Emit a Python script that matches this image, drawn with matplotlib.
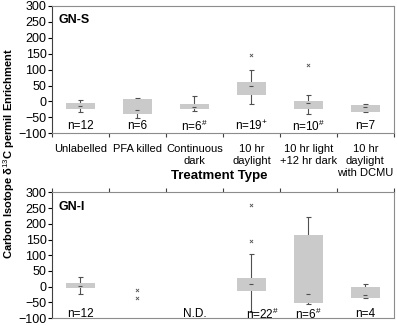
import numpy as np
import matplotlib.pyplot as plt

plt.rcParams['font.family'] = ['Liberation Sans', 'DejaVu Sans']
plt.rcParams['mathtext.fontset'] = 'custom'
plt.rcParams['mathtext.rm'] = 'Liberation Sans'
plt.rcParams['mathtext.bf'] = 'Liberation Sans:bold'

############ DATA ############
categories = ['Unlabelled', 'PFA killed', 'Continuous\ndark', '10 hr\ndaylight',
              '10 hr light\n+12 hr dark', '10 hr\ndaylight\nwith DCMU']

# GN-S (top)
s_q1 = [-23, -39, -25, 21, -23, -32]
s_q3 = [-5, 9, -8, 61, 2, -10]
s_wlo = [-32, -53, -29, -8, -38, -34]
s_whi = [5, 11, 16, 100, 19, -8]
s_med = [-13, -26, -16, 47, -6, -17]
s_out_x = [3, 4]
s_out_y = [145, 113]
s_n = ['n=12', 'n=6', r'n=6$^{\#}$', r'n=19$^{+}$', r'n=10$^{\#}$', 'n=7']

# GN-I (bottom)
i_q1 = [-3, np.nan, np.nan, -15, -51, -35]
i_q3 = [13, np.nan, np.nan, 29, 165, 0]
i_wlo = [-24, np.nan, np.nan, -80, -55, -35]
i_whi = [30, np.nan, np.nan, 103, 223, 9]
i_med = [3, np.nan, np.nan, 8, -22, -27]
i_out_x = [1, 1, 3, 3]
i_out_y = [-10, -35, 259, 145]
i_n = ['n=12', '', 'N.D.', r'n=22$^{\#}$', r'n=6$^{\#}$', 'n=4']
i_n_shift = [0, 0, 0, 0.2, 0, 0]
##############################

BOX = '#cacaca'
LINE = '#505050'
FRAME = '#8c8c8c'


def draw_panel(ax, q1, q3, wlo, whi, med, out_x, out_y, labels, n_y, shifts, title):
    x = np.arange(len(categories))
    q1 = np.array(q1, float); q3 = np.array(q3, float)
    wlo = np.array(wlo, float); whi = np.array(whi, float); med = np.array(med, float)
    ok = ~np.isnan(q1)
    ax.errorbar(x[ok], med[ok], yerr=[med[ok] - wlo[ok], whi[ok] - med[ok]], fmt='none',
                ecolor=LINE, elinewidth=0.8, capsize=1.8, capthick=0.8, zorder=1)
    ax.bar(x[ok], (q3 - q1)[ok], bottom=q1[ok], width=0.5, color=BOX, zorder=2)
    ax.scatter(x[ok], med[ok], marker='_', s=6, color=LINE, linewidths=0.8, zorder=3)
    ax.scatter(out_x, out_y, marker='x', s=5, color=LINE, linewidths=0.6, zorder=3)
    for xi, lab, sh in zip(x, labels, shifts):
        ax.text(xi + sh, n_y, lab, ha='center', va='center', fontsize=8.5)
    ax.text(0.018, 0.935, title, transform=ax.transAxes, fontsize=9, fontweight='bold',
            ha='left', va='top')
    ax.set_xlim(-0.5, 5.5)
    ax.set_ylim(-100, 300)
    ax.set_yticks(np.arange(-100, 301, 50))
    ax.tick_params(axis='y', labelsize=9, length=3, width=0.8, pad=1)
    for s in ['top', 'right', 'bottom']:
        ax.spines[s].set_color(FRAME)
    ax.spines['left'].set_color('#404040')
    ax.set_xticks(np.arange(-0.5, 5.6, 1.0))
    ax.set_xticklabels([])
    ax.tick_params(axis='x', which='major', length=3, width=0.8, color='#404040')


fig = plt.figure(figsize=(3.97, 3.26), dpi=100)
ax1 = fig.add_axes([0.131, 0.591, 0.861, 0.391])
ax2 = fig.add_axes([0.131, 0.024, 0.861, 0.386])

draw_panel(ax1, s_q1, s_q3, s_wlo, s_whi, s_med, s_out_x, s_out_y, s_n, -78,
           [0] * 6, 'GN-S')
ax1.set_xticks(np.arange(len(categories)), minor=True)
ax1.set_xticklabels(categories, minor=True, fontsize=8, linespacing=1.2, va='top')
ax1.tick_params(axis='x', which='minor', length=0, pad=8)

draw_panel(ax2, i_q1, i_q3, i_wlo, i_whi, i_med, i_out_x, i_out_y, i_n, -87,
           i_n_shift, 'GN-I')
ax2.xaxis.tick_top()
ax2.tick_params(axis='x', which='major', length=3, width=0.8, color='#404040')

fig.text(0.552, 1 - 176.5 / 326, 'Treatment Type', ha='center', va='center',
         fontsize=9.5, fontweight='bold')
fig.text(0.022, 1 - 153 / 326, r'Carbon Isotope δ$^{13}$C permil Enrichment', rotation=90,
         ha='center', va='center', fontsize=8, fontweight='bold')

fig.savefig('out.png', dpi=100)
